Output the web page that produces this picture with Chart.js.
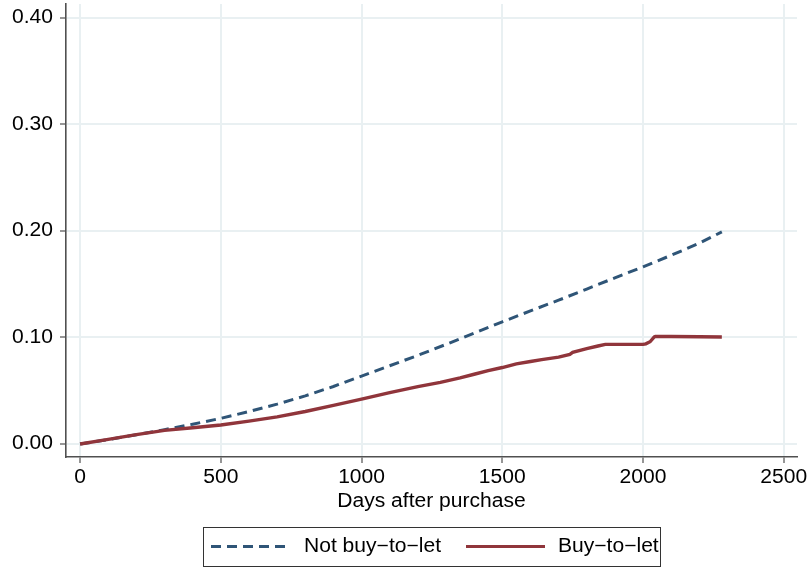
<!DOCTYPE html>
<html>
<head>
<meta charset="utf-8">
<script src="https://cdn.jsdelivr.net/npm/chart.js@4/dist/chart.umd.min.js"></script>
<style>
  html, body { margin: 0; padding: 0; background: #ffffff; }
  #wrap { width: 808px; height: 568px; }
</style>
</head>
<body>
<div id="wrap"><canvas id="c" width="808" height="568"></canvas></div>
<script>
// Cumulative share by days after purchase
const notBtlDays = [0, 100, 200, 300, 400, 500, 600, 700, 800, 900, 1000, 1100, 1200, 1300, 1400, 1500, 1600, 1700, 1800, 1900, 2000, 2100, 2200, 2280];
const notBtlRisk = [0, 0.0042, 0.0087, 0.0135, 0.0186, 0.0241, 0.0305, 0.0374, 0.0452, 0.054, 0.0638, 0.0735, 0.0832, 0.0935, 0.104, 0.1147, 0.125, 0.135, 0.1455, 0.156, 0.1663, 0.1772, 0.1885, 0.1992];

const btlDays = [0, 100, 200, 300, 400, 500, 600, 700, 800, 900, 1000, 1100, 1200, 1280, 1350, 1400, 1450, 1500, 1550, 1600, 1640, 1700, 1740, 1750, 1800, 1840, 1866, 2000, 2010, 2025, 2040, 2044, 2100, 2200, 2280];
const btlRisk = [0, 0.0043, 0.0088, 0.0128, 0.0152, 0.0179, 0.0215, 0.0255, 0.0305, 0.0362, 0.0422, 0.0483, 0.0538, 0.0578, 0.062, 0.0655, 0.0688, 0.0718, 0.0752, 0.0775, 0.0792, 0.0815, 0.0842, 0.086, 0.0895, 0.092, 0.0935, 0.0935, 0.094, 0.096, 0.1005, 0.101, 0.1009, 0.1007, 0.1005];

const xTicks = [0, 500, 1000, 1500, 2000, 2500];
const yTicks = [0, 0.1, 0.2, 0.3, 0.4];
const seriesNames = ['Not buy\u2212to\u2212let', 'Buy\u2212to\u2212let'];
const xTitle = 'Days after purchase';

const NAVY = '#2f5577';
const MAROON = '#90353b';
const GRID = '#e9f0f2';
const AXIS = '#505050';

const FONT = '19.5px "Liberation Sans", Arial, Helvetica, sans-serif';
const SX = 1.08; // horizontal widening of the lettering

function toPoints(xs, ys) { return xs.map((x, i) => ({ x: x, y: ys[i] })); }

function wideText(ctx, text, x, y, align, baseline) {
  ctx.save();
  ctx.translate(x, y);
  ctx.scale(SX, 1);
  ctx.textAlign = align;
  ctx.textBaseline = baseline;
  ctx.fillText(text, 0, 0);
  ctx.restore();
}

const textPlugin = {
  id: 'wideLabels',
  afterDraw(chart) {
    const ctx = chart.ctx;
    const xs = chart.scales.x, ys = chart.scales.y;
    ctx.save();
    ctx.font = FONT;
    ctx.fillStyle = '#000000';
    yTicks.forEach(v => wideText(ctx, v.toFixed(2), 53, ys.getPixelForValue(v), 'right', 'middle'));
    xTicks.forEach(v => wideText(ctx, String(v), xs.getPixelForValue(v), 478, 'center', 'middle'));
    wideText(ctx, xTitle, (chart.chartArea.left + chart.chartArea.right) / 2, 502, 'center', 'middle');

    // legend
    const bx = 203, by = 527, bw = 457, bh = 39;
    ctx.strokeStyle = '#333333';
    ctx.lineWidth = 1;
    ctx.strokeRect(bx + 0.5, by + 0.5, bw, bh);
    const ly = by + bh / 2;
    const ds = chart.data.datasets;
    const items = [
      { ds: ds[1], x0: 211, x1: 290, tx: 304 },
      { ds: ds[0], x0: 466, x1: 545, tx: 558 }
    ];
    items.forEach(it => {
      ctx.save();
      ctx.strokeStyle = it.ds.borderColor;
      ctx.lineWidth = 3;
      ctx.setLineDash(it.ds.borderDash || []);
      ctx.beginPath();
      ctx.moveTo(it.x0, ly);
      ctx.lineTo(it.x1, ly);
      ctx.stroke();
      ctx.restore();
      ctx.fillStyle = '#000000';
      wideText(ctx, it.ds.label, it.tx, ly, 'left', 'middle');
    });
    ctx.restore();
  }
};

new Chart(document.getElementById('c'), {
  type: 'line',
  data: {
    datasets: [
      {
        label: seriesNames[1],
        data: toPoints(btlDays, btlRisk),
        borderColor: MAROON,
        borderWidth: 3.4,
        pointRadius: 0,
        tension: 0,
        order: 0
      },
      {
        label: seriesNames[0],
        data: toPoints(notBtlDays, notBtlRisk),
        borderColor: NAVY,
        borderWidth: 3,
        borderDash: [10, 6],
        pointRadius: 0,
        tension: 0,
        order: 1
      }
    ]
  },
  options: {
    responsive: false,
    animation: false,
    events: [],
    layout: { padding: { left: 0, right: 11, top: 4, bottom: 57 } },
    plugins: { legend: { display: false }, tooltip: { enabled: false } },
    scales: {
      x: {
        type: 'linear',
        min: -50,
        max: 2547,
        afterBuildTicks(s) { s.ticks = xTicks.map(v => ({ value: v })); },
        afterFit(s) { s.height = 54; },
        ticks: { display: false },
        grid: { color: GRID, lineWidth: 2, tickColor: AXIS, tickLength: 6, tickWidth: 1.2 },
        border: { color: AXIS, width: 1.6 }
      },
      y: {
        type: 'linear',
        min: -0.0122,
        max: 0.4131,
        afterBuildTicks(s) { s.ticks = yTicks.map(v => ({ value: v })); },
        afterFit(s) { s.width = 66; },
        ticks: { display: false },
        grid: { color: GRID, lineWidth: 2, tickColor: AXIS, tickLength: 6, tickWidth: 1.2 },
        border: { color: AXIS, width: 1.6 }
      }
    }
  },
  plugins: [textPlugin]
});
</script>
</body>
</html>
